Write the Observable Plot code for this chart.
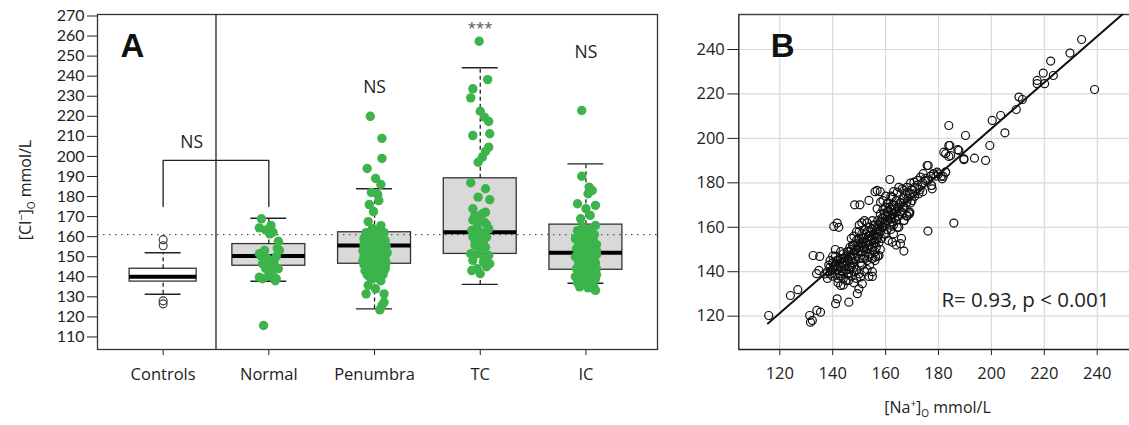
<!DOCTYPE html>
<html><head><meta charset="utf-8">
<script src="https://cdn.jsdelivr.net/npm/d3@7"></script>
<script src="https://cdn.jsdelivr.net/npm/@observablehq/plot@0.6"></script>
<style>
html,body{margin:0;padding:0;background:#fff;overflow:hidden}
#wrap{display:flex;width:1129px;height:425px}
</style></head><body><div id="wrap"></div>
<script>
// ---------- Panel A data ----------
const categories = ["Controls", "Normal", "Penumbra", "TC", "IC"];
const q1 = [137.6, 145.5, 146.5, 151.4, 143.5];
const medians = [140, 150.3, 155.6, 162.2, 152];
const q3 = [144, 156.3, 162.2, 189.1, 166];
const whiskerLow = [131.3, 137.8, 124, 136.2, 136.8];
const whiskerHigh = [152, 169.2, 183.9, 244.2, 196.3];
const controlOutliers = [158.5, 155.5, 128, 126.5];
const refLevel = 161;
const yTicksA = [110,120,130,140,150,160,170,180,190,200,210,220,230,240,250,260,270];

// [value, horizontal jitter in category units]
const normalPts = [[168.9,-0.07],[164.4,-0.09],[163.4,-0.03],[165.6,0.02],[162.2,0.04],[161.4,0.01],[157.7,0.09],[154.2,0.08],[151.5,-0.09],[150.1,-0.07],[150.1,0.07],[146.5,-0.06],[147.3,0],[145.6,0.05],[144,-0.03],[143.1,0.04],[139.8,-0.09],[140.6,0],[139,0.07],[139,-0.06],[144,0.09],[142.3,0.02],[115.7,-0.05],[149,-0.01],[148.1,0.05],[153.1,0.1],[153.1,-0.04],[138,0.06]];
const penumbraPts = [[220,-0.04],[209,0.07],[199,0.07],[194,-0.07],[189,0.01],[186,0.06],[182,-0.03],[181,0.03],[178,0.04],[176,-0.05],[172.5,-0.01],[167.5,-0.06],[165.5,0.06],
[164,-0.02],[163,0.04],[162,-0.08],[162,0.09],[161,0.01],[160,-0.05],[160,0.06],[159,-0.1],[159,0.02],[158,0.1],[158,-0.03],[157,0.05],[157,-0.07],[156,0],[156,0.08],[156,-0.1],[155,0.03],[155,-0.04],[155,0.11],[154,-0.08],[154,0.06],[154,0],[153,-0.02],[153,0.09],[153,-0.11],[152,0.04],[152,-0.06],[152,0.12],[151,0.01],[151,-0.09],[151,0.07],[150,-0.03],[150,0.05],[150,-0.1],[149,0.1],[149,-0.05],[149,0.02],[148,-0.08],[148,0.07],[148,0],[147,0.04],[147,-0.06],[147,0.11],[146,-0.02],[146,0.08],[146,-0.1],[145,0.03],[145,-0.07],[145,0.1],[144,0],[144,-0.04],[144,0.06],[143,-0.09],[143,0.02],[143,0.09],[142,-0.03],[142,0.05],[141,-0.07],[141,0.08],[140,0],[140,-0.05],[139,0.04],[139,-0.02],[138,0.06],[157,0.01],[153,0.05],[149,-0.01],[146,0.02],[151,0.1],[155,-0.08],[158,0.06],[160,0.01],[162,0.03],[150,0.08],[148,-0.11],[144,0.1],
[135.7,-0.06],[134,0.01],[131.5,-0.08],[131.5,0.09],[127.3,0.09],[125.7,0.07],[123.5,0.05]];
const tcPts = [[257.4,-0.01],[238.3,0.07],[233.7,-0.07],[229.2,-0.09],[222.5,0],[219.6,0.04],[217.4,0.08],[210.4,-0.07],[211.3,0.09],[204.6,0.08],[202.5,0.05],[199.6,0.02],[197.1,-0.02],[186.9,-0.09],[183.9,0.05],[179.7,-0.02],[178.4,0.09],[173.9,-0.07],[172.2,0.05],[168.4,-0.07],[167.2,0.04],[163.1,-0.08],[161.4,-0.02],[163.9,0.08],[158,-0.05],[158,0.03],[151.5,-0.09],[153.1,0],[150.6,0.08],[148.1,-0.07],[147.3,0.03],[144,-0.03],[143.1,-0.08],[146.5,0.09],[141.5,0],[164.8,-0.03],[160.6,0.02],[159.8,0.06],[155.6,-0.05],[154.7,0.05],[168,-0.02],[171.4,0.02],[170.6,-0.05],[151.5,-0.02],[162,0.01],[156,-0.01],[149,0.04],[145,0.06],[166,0.06],[160,-0.07]];
const icPts = [[222.9,-0.04],[190.1,-0.04],[184.7,0.03],[183,0.06],[181.4,0.02],[176.4,-0.08],[173.9,0],[175.6,0.09],[170.6,0.04],[168.9,-0.05],[165.6,0.09],
[165,-0.03],[164,0.05],[163,-0.08],[162,0.02],[161,0.08],[160,-0.05],[160,0.04],[159,-0.1],[158,0],[158,0.07],[157,-0.04],[156,0.1],[156,-0.07],[155,0.02],[155,-0.01],[154,0.06],[154,-0.09],[153,0.03],[153,-0.04],[152,0.08],[152,-0.06],[151,0],[151,0.1],[150,-0.03],[150,0.05],[149,-0.08],[149,0.02],[148,0.07],[148,-0.05],[147,0],[147,0.09],[146,-0.07],[146,0.03],[145,-0.02],[145,0.06],[144,-0.09],[144,0.01],[143,0.08],[143,-0.04],[142,0.03],[142,-0.07],[141,0.06],[141,-0.01],[140,-0.1],[140,0.04],[139,0.09],[139,-0.05],[138,0],[138,0.06],[137,-0.08],[137,0.03],[136,0.07],[136,-0.03],[135.7,0.05],[135,-0.06],[134,0.08],[133.2,0.09],[134.5,0.02],[157,0.05],[153,0.1],[150,-0.1],[147,-0.03],[144,0.1],[141,0.1],[159,0.03],[162,-0.05]];

const bracketFrom = 0, bracketTo = 1, bracketTop = 198, bracketFoot = 175;
const annotationsA = [
  {x: 0.27, y: 207, label: "NS"},
  {x: 2, y: 234.5, label: "NS"},
  {x: 4, y: 252, label: "NS"}
];
const starAnnotation = [{x: 3, y: 264, label: "***"}];

// ---------- Panel B data ----------
const xTicksB = [120, 140, 160, 180, 200, 220, 240];
const yTicksB = [120, 140, 160, 180, 200, 220, 240];
const fitSlope = 1.038, fitIntercept = -3.19, fitStart = 115.5;
const rLabel = "R= 0.93, p < 0.001";
const bPoints = [
[234.1,244.5],[229.7,238.4],[222.4,234.8],[219.6,229.4],[223.4,228.3],[217.3,226.1],[217.3,224.6],[220.1,224.6],[239,222],[210.4,218.6],[211.7,217.5],[209.4,213],[203.5,210.3],[200.3,208.1],[205.1,202.5],[190.2,201.3],[183.9,205.8],[199.4,196.8],[184.3,196.8],[182.7,193.1],[183.9,191.9],[187.3,194.9],[189.6,190.4],[193.6,191.1],[197.8,190.1],[176.1,187.8],[182.7,184.8],[179.5,184.8],[181.8,182.9],[177.4,178.8],[177.6,177.3],[175.1,181.1],[173.2,182.6],[170.7,180.3],[169.4,179.9],[161.6,181.5],[156.8,176.6],[172.6,175.1],[168.2,175.8],[166.3,177.3],[164.4,175.8],[148.3,170.1],[150.3,170.1],[153.7,172.1],[168.8,166.8],[168.2,165.3],[185.8,161.9],[176,158.3],[141.7,161.9],[140.4,160.4],[142.3,160],[132.6,147.3],[135.1,146.9],[133.9,139.1],[134.8,140.6],[126.8,131.9],[124,129.3],[115.8,120.3],[131.3,120.3],[132.3,118.1],[135.4,121.8],[134,122.6],[131.6,117.3],[141.7,127.8],[141.1,125.6],[146.1,126.3],[149.3,130.1],[149.9,132.3],[151.2,134.6],[150.5,137.6],[143,133.8],[153.7,137.9],[155,137.9],[165.6,152.6],[166.9,149.3],[162.5,153.3],[157.5,147.3],[156.2,146.6],[169.2,166.8],[166.9,163.1],[164.4,160],[174.2,184.1],[175.7,187.8],[178.2,184.1],[181.4,181.8],[182.7,184.8],[177.3,178.8],[183.9,196.8],[182,193.8],[184.6,192.3],[187.7,194.6],[189.6,190.8],[172,181.1],[166.9,176.6],[162.5,173.6],[160.6,170.6],[158.1,171.3],[156.8,168.3],
[138,140],[139,142],[140,141],[140,144],[141,139],[141,143],[142,145],[142,141],[143,138],[143,142],[143,146],[144,140],[144,144],[144,148],[145,141],[145,143],[145,147],[146,139],[146,145],[146,149],[147,142],[147,146],[147,150],[139,145],[140,138],[142,137],[144,137],[145,136],[141,147],[143,149],[138,137],[137,139],[146,136],[148,140],[148,144],[149,137],[148,135],[149,141],
[148,148],[148,152],[149,150],[149,154],[150,146],[150,151],[150,155],[150,158],[151,149],[151,153],[151,157],[152,147],[152,151],[152,155],[152,159],[153,150],[153,154],[153,158],[153,162],[154,148],[154,152],[154,156],[154,160],[155,151],[155,155],[155,159],[155,163],[156,149],[156,153],[156,157],[156,161],[157,155],[157,159],[157,163],[149,158],[150,161],[151,162],[148,156],[147,155],[152,163],[153,145],[155,146],[157,147],[158,150],[156,145],[154,143],[151,143],[152,140],[153,141],[155,140],[150,139],
[158,158],[158,162],[158,166],[159,160],[159,164],[159,168],[160,157],[160,161],[160,165],[160,169],[161,163],[161,167],[161,171],[162,159],[162,164],[162,168],[163,161],[163,166],[163,170],[164,163],[164,167],[164,172],[165,165],[165,169],[166,167],[166,171],[167,169],[167,173],[168,171],[159,172],[160,174],[162,174],[163,157],[165,160],[166,155],[161,154],[164,152],[168,165],[169,166],[167,163],
[169,175],[170,177],[171,178],[172,179],[173,177],[174,180],[175,182],[176,181],[177,183],[178,184],[179,183],[180,184],[181,183],[171,174],[168,178],[165,178],[163,176],[158,176],[156,176],[170,172],[174,176],
[139.5,140.5],[140.5,142.5],[141.5,141],[142.5,143.5],[143.5,140.5],[144.5,142.5],[145.5,144.5],[146.5,142],[147.5,144],[141.5,145],[142.5,139],[143.5,144],[144.5,146],[145.5,139],[146.5,147],[147.5,148],[148.5,146],[149.5,148],[150.5,149],[151.5,151],[152.5,153],[153.5,152],[154.5,154],[155.5,157],[156.5,155],[157.5,157],[158.5,160],[159.5,162],[160.5,163],[161.5,165],[162.5,166],[163.5,168],[164.5,169],[165.5,171],[166.5,169],[149.5,152],[150.5,153],[151.5,155],[152.5,157],[153.5,156],[154.5,158],[155.5,161],[156.5,159],[157.5,161],[158.5,164],[159.5,166],[160.5,167],[161.5,169],[162.5,170],[148.5,150],[147.5,152],[146.5,151],[145.5,149],[150.5,144],[151.5,146],[152.5,149],[153.5,147],[154.5,150],[155.5,153],[156.5,151],[157.5,153],[158.5,155],[159.5,157],[160.5,159],[161.5,161],[162.5,162],[163.5,164],[164.5,165],[165.5,167],[166.5,173],[167.5,175],[168.5,173],[169.5,171],[170.5,175],[141,150],[140,147],[139,139],[138.5,143],[142,135],[144,134],[147,138],[146,141],[148,142]
];

// ---------- build ----------
const FONT = "'Open Sans', sans-serif";
const GREEN = "#3cb44b";
const boxes = categories.map((c, i) => ({i, cat: c, q1: q1[i], med: medians[i], q3: q3[i], lo: whiskerLow[i], hi: whiskerHigh[i], hw: i === 0 ? 0.317 : 0.345}));
const capHW = 0.17;
const groups = [normalPts, penumbraPts, tcPts, icPts];
const dotsA = groups.flatMap((arr, g) => arr.map(([v, j]) => ({x: g + 1 + j, y: v})));
const outliersA = controlOutliers.map(v => ({x: 0, y: v}));
const bracket = [[bracketFrom, bracketFoot], [bracketFrom, bracketTop], [bracketTo, bracketTop], [bracketTo, bracketFoot]];

const plotA = Plot.plot({
  width: 680, height: 425, marginLeft: 97, marginRight: 23, marginTop: 14, marginBottom: 76,
  style: {fontFamily: FONT, fontSize: "16.5px", color: "#222", background: "white", overflow: "visible"},
  x: {domain: [-0.621, 4.677], ticks: [0, 1, 2, 3, 4], tickFormat: i => categories[i], tickSize: 6, tickPadding: 13, label: null},
  y: {domain: [103.75, 270.75], ticks: yTicksA, tickSize: 10, tickPadding: 3, label: null},
  marks: [
    Plot.rect(boxes, {x1: d => d.i - d.hw, x2: d => d.i + d.hw, y1: "q1", y2: "q3", fill: d => d.i === 0 ? "#fff" : "#d9d9d9", stroke: "#333", strokeWidth: 1.3}),
    Plot.ruleY([refLevel], {stroke: "#555", strokeDasharray: "1.5,4.5", strokeWidth: 1.3}),
    Plot.ruleX(boxes, {x: "i", y1: "q3", y2: "hi", stroke: "#222", strokeWidth: 1.3, strokeDasharray: "4,3"}),
    Plot.ruleX(boxes, {x: "i", y1: "lo", y2: "q1", stroke: "#222", strokeWidth: 1.3, strokeDasharray: "4,3"}),
    Plot.ruleY(boxes, {y: "hi", x1: d => d.i - capHW, x2: d => d.i + capHW, stroke: "#222", strokeWidth: 1.4}),
    Plot.ruleY(boxes, {y: "lo", x1: d => d.i - capHW, x2: d => d.i + capHW, stroke: "#222", strokeWidth: 1.4}),
    Plot.ruleY(boxes, {y: "med", x1: d => d.i - d.hw, x2: d => d.i + d.hw, stroke: "#000", strokeWidth: 4}),
    Plot.dot(outliersA, {x: "x", y: "y", r: 4, stroke: "#333", strokeWidth: 1.1, fill: "none"}),
    Plot.dot(dotsA, {x: "x", y: "y", r: 4.7, fill: GREEN}),
    Plot.line(bracket, {x: d => d[0], y: d => d[1], stroke: "#222", strokeWidth: 1.3}),
    Plot.text(annotationsA, {x: "x", y: "y", text: "label", fontSize: 17.5, fill: "#222", lineAnchor: "middle"}),
    Plot.text(starAnnotation, {x: "x", y: "y", text: "label", fontSize: 15, fill: "#555", lineAnchor: "middle"}),
    Plot.ruleX([0.5], {stroke: "#222", strokeWidth: 1.3}),
    Plot.frame({stroke: "#333", strokeWidth: 1.3}),
    Plot.text(["A"], {text: d => d, frameAnchor: "top-left", dx: 23, dy: 19, lineAnchor: "top", textAnchor: "start", fontSize: 33, fontWeight: "bold", fontFamily: "'Liberation Sans', Arial, sans-serif", fill: "#111"})
  ]
});

const xDomainB = [104.5, 252.2], yDomainB = [105, 255.75];
const fitLine = [fitStart, xDomainB[1]].map(x => ({x, y: fitIntercept + fitSlope * x}));
const plotB = Plot.plot({
  width: 449, height: 425, marginLeft: 58.3, marginRight: 0, marginTop: 14, marginBottom: 76,
  style: {fontFamily: FONT, fontSize: "16.5px", color: "#222", background: "white", overflow: "visible"},
  x: {domain: xDomainB, ticks: xTicksB, tickSize: 6, tickPadding: 12, label: null},
  y: {domain: yDomainB, ticks: yTicksB, tickSize: 11, tickPadding: 3, label: null},
  marks: [
    Plot.ruleX(xTicksB, {stroke: "#dadada", strokeWidth: 1.2}),
    Plot.ruleY(yTicksB, {stroke: "#dadada", strokeWidth: 1.2}),
    Plot.ruleX([xDomainB[0]], {stroke: "#222", strokeWidth: 1.4}),
    Plot.ruleY([yDomainB[0]], {stroke: "#222", strokeWidth: 1.4}),
    Plot.ruleY([yDomainB[1]], {stroke: "#444", strokeWidth: 1.3}),
    Plot.dot(bPoints, {x: d => d[0], y: d => d[1], r: 4, stroke: "#111", strokeWidth: 1.2, fill: "none"}),
    Plot.line(fitLine, {x: "x", y: "y", stroke: "#111", strokeWidth: 2, clip: true}),
    Plot.text([rLabel], {text: d => d, frameAnchor: "bottom-right", dx: -20, dy: -49, lineAnchor: "middle", textAnchor: "end", fontSize: 20.5, fill: "#222"}),
    Plot.text(["B"], {text: d => d, frameAnchor: "top-left", dx: 32, dy: 19, lineAnchor: "top", textAnchor: "start", fontSize: 33, fontWeight: "bold", fontFamily: "'Liberation Sans', Arial, sans-serif", fill: "#111"})
  ]
});

document.getElementById("wrap").append(plotA, plotB);

// tighter-metric font for the dense y tick labels of panel A
d3.select(plotA).selectAll('g[aria-label="y-axis tick label"]')
  .attr("font-family", "Lato, 'Open Sans', sans-serif")
  .attr("font-size", 16);

// axis titles with super/subscripts
function richLabel(svg, parts, x, y, rotate) {
  const t = d3.select(svg).append("text")
    .attr("transform", `translate(${x},${y})` + (rotate ? ` rotate(${rotate})` : ""))
    .attr("text-anchor", "middle")
    .attr("font-family", FONT)
    .attr("fill", "#222");
  for (const p of parts) {
    t.append("tspan").text(p.t).attr("font-size", p.s).attr("dy", p.dy || 0);
  }
}
richLabel(plotA, [
  {t: "[Cl", s: 16}, {t: "−", s: 11, dy: -6}, {t: "]", s: 16, dy: 6},
  {t: "O", s: 10, dy: 4}, {t: " mmol/L", s: 16, dy: -4}
], 31, 190, -90);
richLabel(plotB, [
  {t: "[Na", s: 16}, {t: "+", s: 10, dy: -6}, {t: "]", s: 16, dy: 6},
  {t: "O", s: 10, dy: 4}, {t: " mmol/L", s: 16, dy: -4}
], 937.5 - 680, 413, 0);
</script>
</body></html>
